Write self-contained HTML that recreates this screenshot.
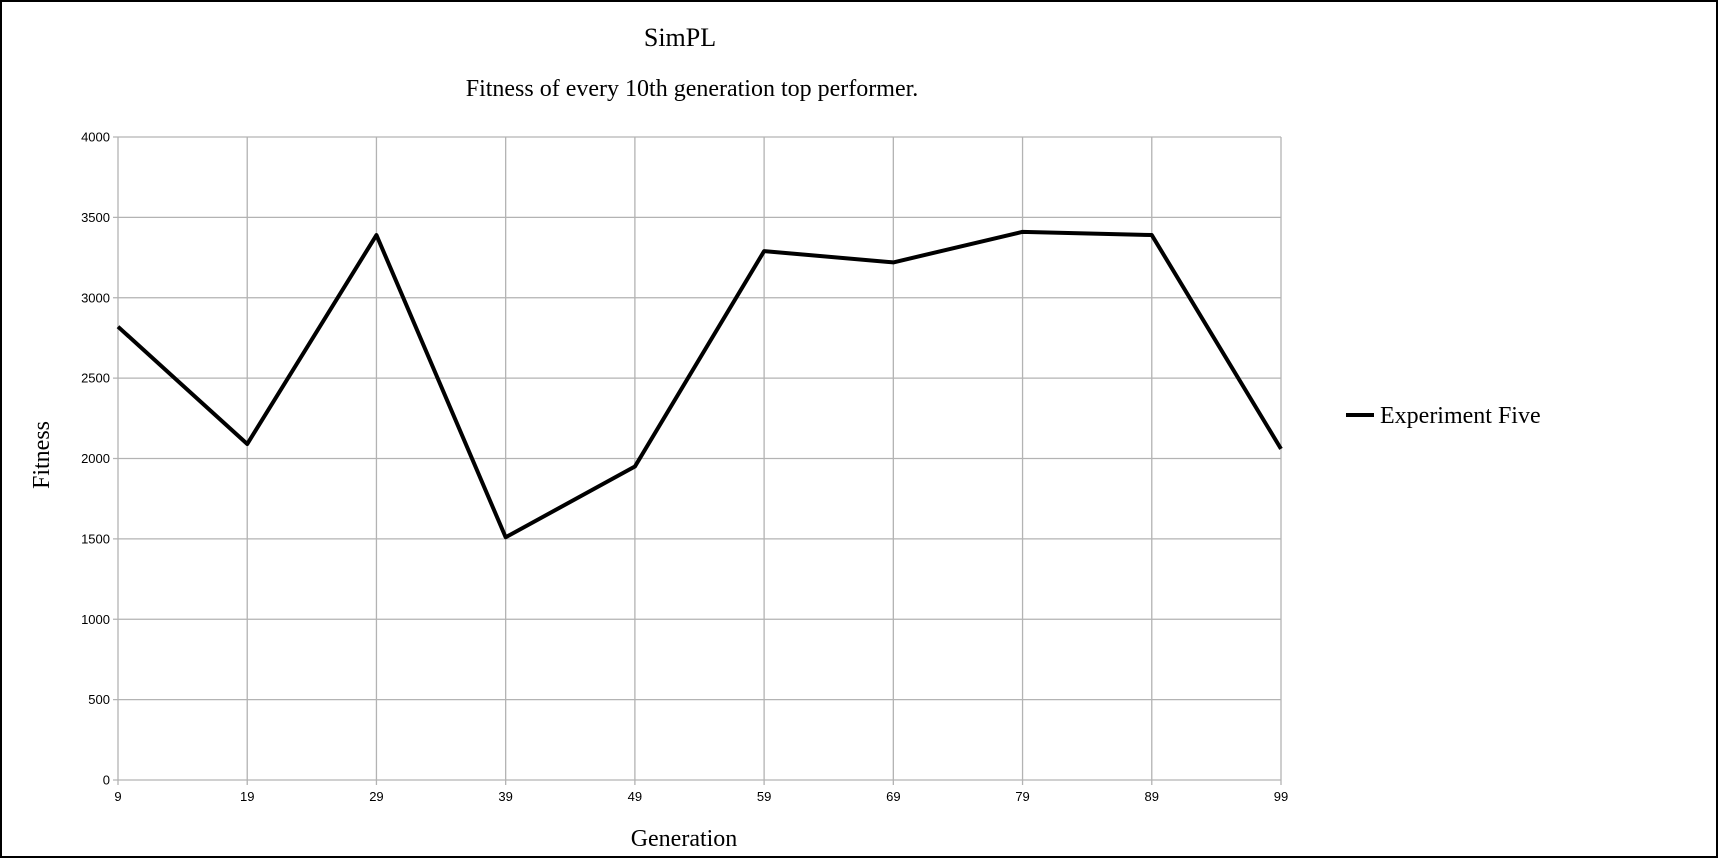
<!DOCTYPE html>
<html><head><meta charset="utf-8"><style>
html,body{margin:0;padding:0;background:#fff}
svg{display:block}
</style></head><body>
<svg id="chart" width="1718" height="858" xmlns="http://www.w3.org/2000/svg">
<rect x="1" y="1" width="1716" height="856" fill="#fff" stroke="#000" stroke-width="2"/>
<text x="680" y="46" font-family="Liberation Serif, serif" font-size="26" text-anchor="middle">SimPL</text>
<text x="692" y="96" font-family="Liberation Serif, serif" font-size="24" text-anchor="middle">Fitness of every 10th generation top performer.</text>
<text x="684" y="846" font-family="Liberation Serif, serif" font-size="24" text-anchor="middle">Generation</text>
<text transform="translate(49,455) rotate(-90)" font-family="Liberation Serif, serif" font-size="24" text-anchor="middle">Fitness</text>
<g id="grid"></g><g id="ticks"></g><g id="series"></g>
<line x1="1346" y1="415" x2="1374" y2="415" stroke="#000" stroke-width="4"/>
<text x="1380" y="423" font-family="Liberation Serif, serif" font-size="24">Experiment Five</text>
</svg>
<script>
const categories=["9","19","29","39","49","59","69","79","89","99"];
const fitness=[2820,2090,3390,1510,1950,3290,3220,3410,3390,2060];
const yTicks=[0,500,1000,1500,2000,2500,3000,3500,4000];
const L=118,R=1281,T=137,B=780,YMAX=4000;
const NS="http://www.w3.org/2000/svg";
function xs(i){return L+(R-L)*i/(categories.length-1);}
function ys(v){return B-(B-T)*v/YMAX;}
function mk(tag,attrs,parent){const e=document.createElementNS(NS,tag);for(const k in attrs)e.setAttribute(k,attrs[k]);document.getElementById(parent).appendChild(e);return e;}
yTicks.forEach(v=>{
 const y=ys(v);
 const g=mk('line',{x1:L-5,x2:R,y1:y,y2:y,stroke:'#b3b3b3','stroke-width':1.3},'grid');
 
 
 const t=mk('text',{x:L-8,y:y+4.5,'font-family':'Liberation Sans, sans-serif','font-size':13,'text-anchor':'end'},'ticks');
 t.textContent=v;
 
 
});
categories.forEach((c,i)=>{
 const x=xs(i);
 const g=mk('line',{x1:x,x2:x,y1:T,y2:B+5,stroke:'#b3b3b3','stroke-width':1.3},'grid');
 
 
 const t=mk('text',{x:x,y:B+21,'font-family':'Liberation Sans, sans-serif','font-size':13,'text-anchor':'middle'},'ticks');
 t.textContent=c;
 
 
});
const pts=fitness.map((v,i)=>xs(i)+','+ys(v)).join(' ');
const p=mk('polyline',{points:pts,fill:'none',stroke:'#000','stroke-width':4,'stroke-linejoin':'round'},'series');


</script>
</body></html>
